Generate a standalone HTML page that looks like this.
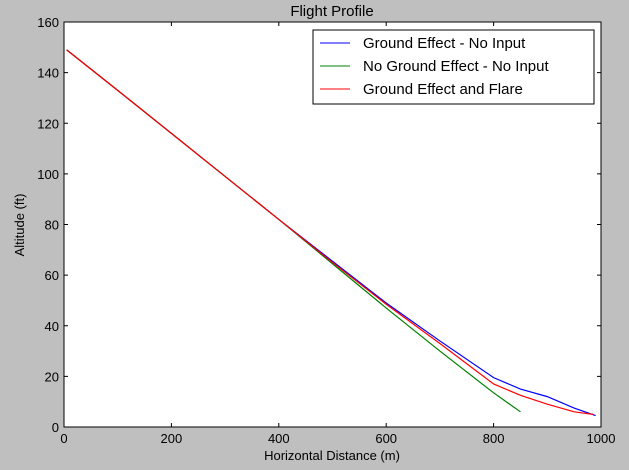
<!DOCTYPE html>
<html><head><meta charset="utf-8"><style>
body{margin:0;background:#bfbfbf;}
svg{display:block;font-family:"Liberation Sans","DejaVu Sans",sans-serif;}
</style></head><body>
<svg id="chart" width="629" height="470">
<rect width="629" height="470" fill="#bfbfbf"/>
<rect x="64" y="22" width="537" height="405" fill="#fff" stroke="#000" stroke-width="1"/>
<text x="332" y="16" text-anchor="middle" font-size="15">Flight Profile</text>
<text x="332" y="460" text-anchor="middle" font-size="13">Horizontal Distance (m)</text>
<text x="24" y="225" text-anchor="middle" font-size="13" transform="rotate(-90 24 225)">Altitude (ft)</text>
<g id="ticks"></g>
<g id="series"></g>
<g>
<rect x="313" y="30" width="281" height="74" fill="#fff" stroke="#000"/>
<line x1="320" y1="43" x2="350" y2="43" stroke="#0000ff"/>
<text x="363" y="48" font-size="15">Ground Effect - No Input</text>
<line x1="320" y1="66" x2="350" y2="66" stroke="#008000"/>
<text x="363" y="71" font-size="15">No Ground Effect - No Input</text>
<line x1="320" y1="89" x2="350" y2="89" stroke="#ff0000"/>
<text x="363" y="94" font-size="15">Ground Effect and Flare</text>
</g>
</svg>
<script>
const xTicks=[0,200,400,600,800,1000];
const yTicks=[0,20,40,60,80,100,120,140,160];
const blueX=[5,100,200,300,400,500,600,700,800,850,900,950,990];
const blueY=[149,133,116,99,82,65.5,49,34,19.5,15,12,7.5,4.5];
const greenX=[5,100,200,300,400,500,600,700,800,850];
const greenY=[149,133,116,99,82,64.5,47,30,13.5,6];
const redX=[5,100,200,300,400,500,600,700,800,850,900,950,985];
const redY=[149,133,116,99,82,65,48.5,33,17,12.5,9,6,5];
const X0=64,X1=601,Y0=427,Y1=22;
const sx=v=>X0+(v-0)/(1000-0)*(X1-X0);
const sy=v=>Y0-(v-0)/(160-0)*(Y0-Y1);
const NS="http://www.w3.org/2000/svg";
const tg=document.getElementById('ticks');
function mk(tag,attrs,parent){const e=document.createElementNS(NS,tag);for(const k in attrs)e.setAttribute(k,attrs[k]);parent.appendChild(e);return e;}
xTicks.forEach(t=>{
  const x=sx(t);
  mk('line',{x1:x,y1:Y0,x2:x,y2:Y0-4,stroke:'#000'},tg);
  mk('line',{x1:x,y1:Y1,x2:x,y2:Y1+4,stroke:'#000'},tg);
  const l=mk('text',{x:x,y:Y0+16,'text-anchor':'middle','font-size':13},tg);
  l.textContent=t;
  
  
});
yTicks.forEach(t=>{
  const y=sy(t);
  mk('line',{x1:X0,y1:y,x2:X0+4,y2:y,stroke:'#000'},tg);
  mk('line',{x1:X1,y1:y,x2:X1-4,y2:y,stroke:'#000'},tg);
  const l=mk('text',{x:X0-5,y:y+5,'text-anchor':'end','font-size':13},tg);
  l.textContent=t;
  
  
});
const sg=document.getElementById('series');
function line(xs,ys,c,name){
  const p=mk('polyline',{points:xs.map((x,i)=>sx(x)+','+sy(ys[i])).join(' '),fill:'none',stroke:c,'stroke-width':1.2},sg);
  
  
}
line(blueX,blueY,'#0000ff','line-ground-effect-no-input');
line(greenX,greenY,'#008000','line-no-ground-effect-no-input');
line(redX,redY,'#ff0000','line-ground-effect-and-flare');
</script>
</body></html>
